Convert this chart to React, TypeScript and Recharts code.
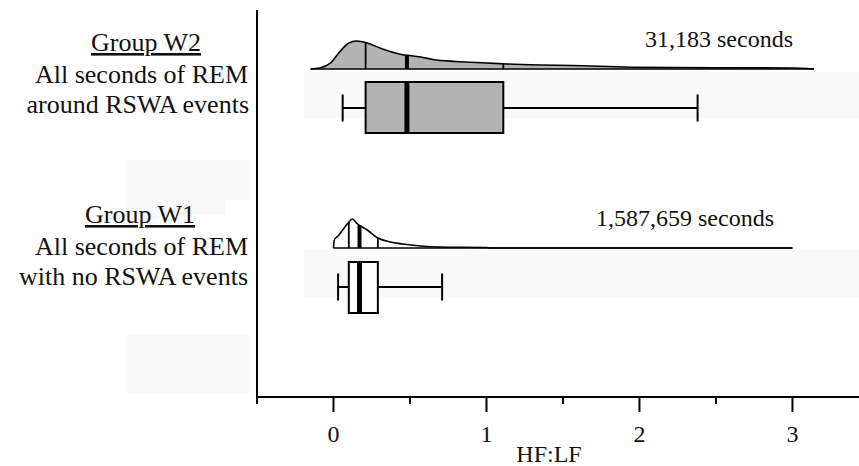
import React from 'react';
import {
  ComposedChart,
  Area,
  XAxis,
  YAxis,
  ReferenceArea,
  ReferenceLine,
} from 'recharts';

// ---------- data ----------
const groupNames = ['Group W2', 'Group W1'];
const groupLine2 = ['All seconds of REM', 'All seconds of REM'];
const groupLine3 = ['around RSWA events', 'with no RSWA events'];
const secondsText = ['31,183 seconds', '1,587,659 seconds'];

// box plot statistics (HF:LF)
const whiskerLow = [0.06, 0.03];
const quartile1 = [0.21, 0.1];
const medians = [0.48, 0.17];
const quartile3 = [1.11, 0.29];
const whiskerHigh = [2.38, 0.71];

// density curves (x = HF:LF, h = relative density height)
const w2DensityX = [-0.15, -0.09, -0.02, 0.04, 0.1, 0.15, 0.22, 0.32, 0.43, 0.57, 0.65, 0.8, 1.0, 1.13, 1.35, 1.56, 1.94, 2.5, 3.0, 3.14];
const w2DensityH = [0, 1, 6, 17, 26, 28, 26, 20, 15, 12, 9.5, 7.5, 6, 5, 4, 3.5, 1.8, 1.2, 1, 0];
const w1DensityX = [0.0, 0.005, 0.03, 0.06, 0.095, 0.125, 0.15, 0.22, 0.29, 0.37, 0.45, 0.57, 0.7, 1.0, 1.02, 3.0];
const w1DensityH = [0, 8, 12, 18, 25, 29, 25, 18, 10, 6, 4, 2, 1, 0.5, 0, 0];

const xTicks = [-0.5, 0, 0.5, 1, 1.5, 2, 2.5, 3];
const xDomain = [-0.5, 3.435];
const axisTitle = 'HF:LF';

// ---------- layout (vertical positions in plot units, 1 unit = 1px) ----------
const W = 859;
const H = 466;
const rowBase = [328, 149]; // density baseline per group
const boxTop = [315, 135];
const boxBottom = [264, 84];
const whiskerY = [289, 110];
const capHalf = 13.5;
const bands = [
  [279, 325],
  [100, 147],
];
const BAND = '#f9f9f9';
const FONT = '"Liberation Serif", "Times New Roman", serif';

// ---------- build chart rows ----------
const rowMap: Record<string, any> = {};
w2DensityX.forEach((x, i) => {
  rowMap[String(x)] = { ...(rowMap[String(x)] || {}), x, w2: rowBase[0] + w2DensityH[i] };
});
w1DensityX.forEach((x, i) => {
  rowMap[String(x)] = { ...(rowMap[String(x)] || {}), x, w1: rowBase[1] + w1DensityH[i] };
});
const chartData = Object.values(rowMap).sort((a: any, b: any) => a.x - b.x);

const densityAt = (xs: number[], hs: number[], v: number) => {
  for (let i = 0; i < xs.length - 1; i++) {
    if (v >= xs[i] && v <= xs[i + 1]) {
      const t = (v - xs[i]) / (xs[i + 1] - xs[i]);
      return hs[i] + t * (hs[i + 1] - hs[i]);
    }
  }
  return 0;
};
const densX = [w2DensityX, w1DensityX];
const densH = [w2DensityH, w1DensityH];

const renderTick = (props: any) => {
  const { x, y, payload } = props;
  const v = payload.value as number;
  const major = Number.isInteger(v);
  return (
    <g>
      <line x1={x} x2={x} y1={y} y2={y + (major ? 15 : 7)} stroke="#000" strokeWidth={2} />
      {major && (
        <text x={x} y={y + 45} textAnchor="middle" fontFamily={FONT} fontSize={24} fill="#111">
          {v}
        </text>
      )}
    </g>
  );
};

export default function App() {
  const groupIdx = [0, 1];
  return (
    <div style={{ position: 'absolute', left: 0, top: 0, width: W, height: H, background: '#fff', overflow: 'hidden' }}>
      {/* faint background patches left of axis */}
      <div style={{ position: 'absolute', left: 125, top: 160, width: 125, height: 40, background: BAND }} />
      <div style={{ position: 'absolute', left: 125, top: 200, width: 100, height: 15, background: BAND }} />
      <div style={{ position: 'absolute', left: 125, top: 335, width: 125, height: 58, background: BAND }} />
      <div style={{ position: 'absolute', left: 0, top: 0 }}>
        <ComposedChart
          width={W}
          height={H}
          data={chartData}
          margin={{ top: 10, right: 0, bottom: 0, left: 256 }}
        >
          <XAxis
            type="number"
            dataKey="x"
            domain={xDomain}
            allowDataOverflow
            ticks={xTicks}
            interval={0}
            height={69}
            tickSize={0}
            tickMargin={0}
            tickLine={false}
            axisLine={{ stroke: '#000', strokeWidth: 2 }}
            tick={renderTick}
          />
          <YAxis
            type="number"
            domain={[0, 387]}
            allowDataOverflow
            width={1}
            tick={false}
            tickLine={false}
            axisLine={{ stroke: '#000', strokeWidth: 2 }}
          />
          {groupIdx.map((g) => (
            <ReferenceArea
              key={'band' + g}
              x1={-0.19}
              x2={xDomain[1]}
              y1={bands[g][0]}
              y2={bands[g][1]}
              fill={BAND}
              fillOpacity={1}
              stroke="none"
              ifOverflow="visible"
            />
          ))}
          <Area
            type="monotone"
            dataKey="w2"
            baseValue={rowBase[0]}
            connectNulls
            stroke="#000"
            strokeWidth={1.6}
            fill="#b3b3b3"
            fillOpacity={1}
            dot={false}
            activeDot={false}
            isAnimationActive={false}
          />
          <Area
            type="monotone"
            dataKey="w1"
            baseValue={rowBase[1]}
            connectNulls
            stroke="#000"
            strokeWidth={1.6}
            fill="none"
            dot={false}
            activeDot={false}
            isAnimationActive={false}
          />
          {groupIdx.map((g) => (
            <ReferenceLine
              key={'base' + g}
              segment={[
                { x: densX[g][0], y: rowBase[g] },
                { x: densX[g][densX[g].length - 1], y: rowBase[g] },
              ]}
              stroke="#000"
              strokeWidth={1.5}
              ifOverflow="visible"
            />
          ))}
          {groupIdx.map((g) =>
            [quartile1[g], medians[g], quartile3[g]].map((q, k) => (
              <ReferenceLine
                key={'dq' + g + '-' + k}
                segment={[
                  { x: q, y: rowBase[g] },
                  { x: q, y: rowBase[g] + densityAt(densX[g], densH[g], q) },
                ]}
                stroke="#000"
                strokeWidth={k === 1 ? 4 : 1.8}
                ifOverflow="visible"
              />
            ))
          )}
          {groupIdx.map((g) => (
            <ReferenceLine
              key={'wl' + g}
              segment={[
                { x: whiskerLow[g], y: whiskerY[g] },
                { x: quartile1[g], y: whiskerY[g] },
              ]}
              stroke="#000"
              strokeWidth={2}
              ifOverflow="visible"
            />
          ))}
          {groupIdx.map((g) => (
            <ReferenceLine
              key={'wh' + g}
              segment={[
                { x: quartile3[g], y: whiskerY[g] },
                { x: whiskerHigh[g], y: whiskerY[g] },
              ]}
              stroke="#000"
              strokeWidth={2}
              ifOverflow="visible"
            />
          ))}
          {groupIdx.map((g) => (
            <ReferenceLine
              key={'cl' + g}
              segment={[
                { x: whiskerLow[g], y: whiskerY[g] - capHalf },
                { x: whiskerLow[g], y: whiskerY[g] + capHalf },
              ]}
              stroke="#000"
              strokeWidth={2}
              ifOverflow="visible"
            />
          ))}
          {groupIdx.map((g) => (
            <ReferenceLine
              key={'ch' + g}
              segment={[
                { x: whiskerHigh[g], y: whiskerY[g] - capHalf },
                { x: whiskerHigh[g], y: whiskerY[g] + capHalf },
              ]}
              stroke="#000"
              strokeWidth={2}
              ifOverflow="visible"
            />
          ))}
          {groupIdx.map((g) => (
            <ReferenceArea
              key={'box' + g}
              x1={quartile1[g]}
              x2={quartile3[g]}
              y1={boxBottom[g]}
              y2={boxTop[g]}
              fill={g === 0 ? '#b3b3b3' : '#ffffff'}
              fillOpacity={1}
              stroke="#000"
              strokeWidth={2}
              ifOverflow="visible"
            />
          ))}
          {groupIdx.map((g) => (
            <ReferenceLine
              key={'med' + g}
              segment={[
                { x: medians[g], y: boxBottom[g] },
                { x: medians[g], y: boxTop[g] },
              ]}
              stroke="#000"
              strokeWidth={5}
              ifOverflow="visible"
            />
          ))}
        </ComposedChart>
      </div>
      <svg
        width={W}
        height={H}
        style={{ position: 'absolute', left: 0, top: 0, pointerEvents: 'none' }}
      >
        <g fontFamily={FONT} fill="#111">
          <text x={146} y={51} fontSize={26} textAnchor="middle" textDecoration="underline">
            {groupNames[0]}
          </text>
          <text x={248} y={83} fontSize={26} textAnchor="end">
            {groupLine2[0]}
          </text>
          <text x={249} y={113} fontSize={26} textAnchor="end">
            {groupLine3[0]}
          </text>
          <text x={140} y={223} fontSize={26} textAnchor="middle" textDecoration="underline">
            {groupNames[1]}
          </text>
          <text x={248} y={255} fontSize={26} textAnchor="end">
            {groupLine2[1]}
          </text>
          <text x={248} y={285} fontSize={26} textAnchor="end">
            {groupLine3[1]}
          </text>
          <text x={793} y={47} fontSize={24} textAnchor="end">
            {secondsText[0]}
          </text>
          <text x={774} y={226} fontSize={24} textAnchor="end">
            {secondsText[1]}
          </text>
          <text x={549} y={462} fontSize={24} textAnchor="middle">
            {axisTitle}
          </text>
        </g>
      </svg>
    </div>
  );
}
